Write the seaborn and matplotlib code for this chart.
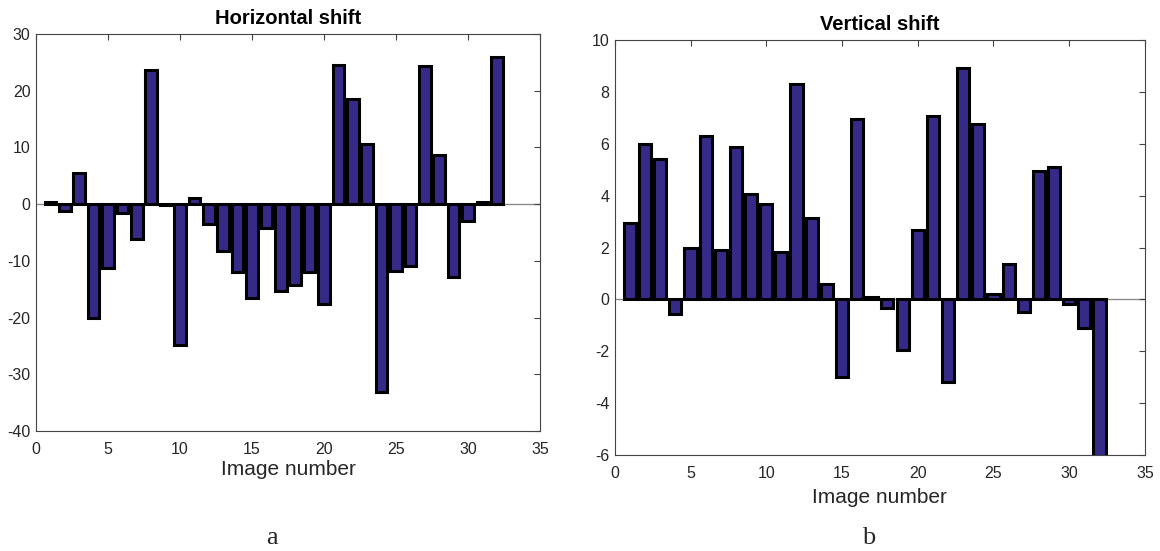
import numpy as np
import pandas as pd
import seaborn as sns
import matplotlib.pyplot as plt

image_number = list(range(1, 33))

# horizontal shift per image
horizontal_shift = [0.3, -1.2, 5.5, -20.1, -11.2, -1.6, -6.1, 23.7, -0.1, -24.9,
                    1.0, -3.5, -8.2, -11.9, -16.5, -4.2, -15.3, -14.2, -12.0, -17.6,
                    24.5, 18.5, 10.6, -33.2, -11.8, -10.9, 24.4, 8.7, -12.9, -3.0,
                    0.4, 26.0]

# vertical shift per image
vertical_shift = [2.95, 6.0, 5.4, -0.57, 1.97, 6.3, 1.9, 5.88, 4.06, 3.66,
                  1.81, 8.29, 3.12, 0.59, -3.0, 6.94, 0.08, -0.33, -1.95, 2.67,
                  7.08, -3.17, 8.93, 6.77, 0.2, 1.35, -0.49, 4.96, 5.09, -0.17,
                  -1.09, -6.05]

bar_color = "#352A87"
text_color = "#262626"

sns.set_style("white")
plt.rcParams["font.family"] = ["Liberation Sans", "DejaVu Sans"]
plt.rcParams["axes.unicode_minus"] = False

fig = plt.figure(figsize=(11.6, 5.51), dpi=100)
ax1 = fig.add_axes([0.031, 0.2178, 0.4345, 0.7205])
ax2 = fig.add_axes([0.530, 0.1742, 0.457, 0.7532])

df = pd.DataFrame({"img": image_number, "h": horizontal_shift, "v": vertical_shift})

panels = [
    (ax1, "h", "Horizontal shift", (-40, 30), np.arange(-40, 31, 10), 2),
    (ax2, "v", "Vertical shift", (-6, 10), np.arange(-6, 11, 2), 5),
]

for ax, col, title, ylim, yticks, lpad in panels:
    sns.barplot(data=df, x="img", y=col, native_scale=True, color=bar_color,
                saturation=1, edgecolor="black", linewidth=2.2, width=0.8, ax=ax)
    ax.axhline(0, color="#8c8c8c", linewidth=1, zorder=0.5)
    ax.set_xlim(0, 35)
    ax.set_ylim(*ylim)
    ax.set_xticks(np.arange(0, 36, 5))
    ax.set_yticks(yticks)
    ax.tick_params(direction="in", top=True, right=True, length=4, width=0.8,
                   colors="#444444", labelcolor=text_color, labelsize=11.5, pad=4)
    ax.tick_params(axis="x", labeltop=False, pad=8)
    ax.tick_params(axis="y", labelright=False)
    for s in ax.spines.values():
        s.set_visible(True)
        s.set_color("#444444")
        s.set_linewidth(0.8)
    ax.set_title(title, fontsize=14.5, fontweight="bold", color="black", pad=7)
    ax.set_xlabel("Image number", fontsize=15, color=text_color, labelpad=lpad)
    ax.set_ylabel("")

fig.text(0.2345, 0.012, "a", fontsize=19, family="Liberation Serif", ha="center")
fig.text(0.749, 0.012, "b", fontsize=19, family="Liberation Serif", ha="center")

plt.savefig("out.png", dpi=100)
